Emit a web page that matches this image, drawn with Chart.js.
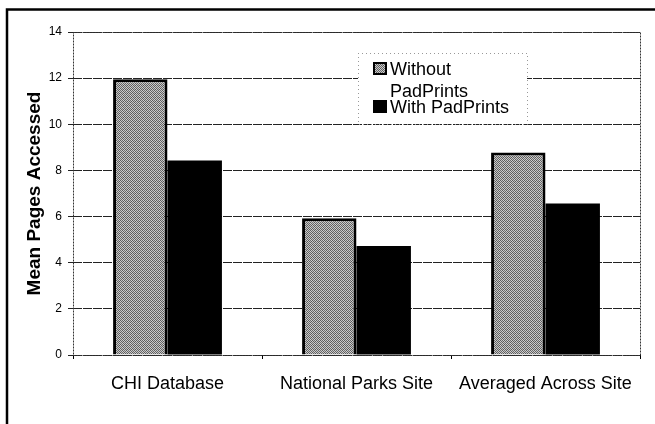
<!DOCTYPE html>
<html><head><meta charset="utf-8">
<script src="https://cdn.jsdelivr.net/npm/chart.js@4/dist/chart.umd.min.js"></script>
<style>html,body{margin:0;padding:0;background:#fff}#wrap{width:655px;height:424px;position:relative}</style>
</head><body><div id="wrap"><canvas id="c" width="655" height="424"></canvas></div>
<script>
const categories = ["CHI Database", "National Parks Site", "Averaged Across Site"];
const seriesNames = ["Without PadPrints", "With PadPrints"];
const withoutPadPrints = [11.95, 5.93, 8.78];
const withPadPrints = [8.43, 4.72, 6.57];
const yTicks = [0, 2, 4, 6, 8, 10, 12, 14];

const FONT = "'Liberation Sans', Arial, Helvetica, sans-serif";

function makePattern() {
  const p = document.createElement('canvas');
  p.width = 4; p.height = 4;
  const g = p.getContext('2d');
  const cols = [['#5a5a5a','#c4c4c4','#6a6a6a','#d0d0d0'],
                ['#cfcfcf','#606060','#bdbdbd','#575757'],
                ['#707070','#c8c8c8','#5c5c5c','#cacaca'],
                ['#c2c2c2','#686868','#d2d2d2','#626262']];
  for (let y=0;y<4;y++) for (let x=0;x<4;x++){ g.fillStyle=cols[y][x]; g.fillRect(x,y,1,1); }
  return document.getElementById('c').getContext('2d').createPattern(p,'repeat');
}
const grayPattern = makePattern();

const framePlugin = {
  id: 'frame',
  beforeDatasetsDraw(chart) {
    const {ctx, chartArea: a} = chart;
    ctx.save();
    ctx.strokeStyle = '#333';
    ctx.lineWidth = 1;
    ctx.setLineDash([2, 1]);
    ctx.strokeRect(a.left + 0.5, a.top + 0.5, a.right - a.left, a.bottom - a.top);
    ctx.restore();
  },
  afterDraw(chart) {
    const {ctx} = chart;
    ctx.save();
    // outer frame (top and left)
    ctx.strokeStyle = '#000';
    ctx.lineWidth = 2.5;
    ctx.beginPath();
    ctx.moveTo(7, 424); ctx.lineTo(7, 9.5); ctx.lineTo(655, 9.5);
    ctx.stroke();
    // legend
    const lx = 358, ly = 53, lw = 169, lh = 71;
    ctx.fillStyle = '#fff';
    ctx.fillRect(lx, ly, lw, lh);
    ctx.strokeStyle = '#999';
    ctx.lineWidth = 1;
    ctx.setLineDash([1, 3]);
    ctx.beginPath();
    ctx.moveTo(lx + 0.5, ly); ctx.lineTo(lx + 0.5, ly + lh + 0.5);
    ctx.lineTo(lx + lw + 0.5, ly + lh + 0.5); ctx.lineTo(lx + lw + 0.5, ly);
    ctx.moveTo(lx, ly + 0.5); ctx.lineTo(lx + lw, ly + 0.5);
    ctx.stroke();
    ctx.setLineDash([]);
    ctx.font = '18px ' + FONT;
    ctx.textBaseline = 'alphabetic';
    ctx.fillStyle = '#000';
    const textX = 390;
    let baseY = 75;
    chart.data.datasets.forEach((ds, i) => {
      const words = ds.label.split(' ');
      const lines = [];
      let cur = '';
      words.forEach(w => {
        const t = cur ? cur + ' ' + w : w;
        if (ctx.measureText(t).width > 125 && cur) { lines.push(cur); cur = w; } else cur = t;
      });
      lines.push(cur);
      ctx.fillStyle = '#000';
      ctx.fillRect(373, baseY - 13, 14, 13);
      if (i === 0) { ctx.fillStyle = grayPattern; ctx.fillRect(375, baseY - 11, 10, 9); }
      ctx.fillStyle = '#000';
      lines.forEach((ln, k) => { ctx.fillText(ln, textX, baseY + k * 22); });
      baseY += (lines.length - 1) * 22 + 16;
    });
    ctx.restore();
  }
};

new Chart(document.getElementById('c'), {
  type: 'bar',
  data: {
    labels: categories,
    datasets: [
      { label: seriesNames[0], data: withoutPadPrints, backgroundColor: grayPattern,
        borderColor: '#000', borderWidth: {top: 3, left: 3, right: 3, bottom: 0}, borderSkipped: 'bottom' },
      { label: seriesNames[1], data: withPadPrints, backgroundColor: '#000', borderWidth: 0 }
    ]
  },
  options: {
    responsive: false,
    animation: false,
    devicePixelRatio: 1,
    layout: { padding: { left: 0, top: 32, right: 15, bottom: 0 } },
    datasets: { bar: { categoryPercentage: 0.576, barPercentage: 1.0 } },
    plugins: { legend: { display: false }, tooltip: { enabled: false } },
    scales: {
      x: {
        grid: { display: true, drawOnChartArea: false, drawTicks: true, tickLength: 4, color: '#000', offset: true },
        border: { display: false },
        ticks: { color: '#000', font: { family: FONT, size: 18 }, padding: 14, maxRotation: 0, autoSkip: false },
        afterFit(s) { s.height = 69; }
      },
      y: {
        min: 0, max: 14,
        afterBuildTicks(s) { s.ticks = yTicks.map(v => ({ value: v })); },
        grid: { color: '#222', lineWidth: 1, tickLength: 5, drawTicks: true },
        border: { display: false, dash: [9, 1] },
        ticks: { color: '#000', font: { family: FONT, size: 12 }, padding: 6 },
        title: { display: true, text: 'Mean Pages Accessed', color: '#000',
                 font: { family: FONT, size: 19, weight: 'bold' }, padding: { top: 23, bottom: 0 } },
        afterFit(s) { s.width = 73; }
      }
    }
  },
  plugins: [framePlugin]
});
</script></body></html>
